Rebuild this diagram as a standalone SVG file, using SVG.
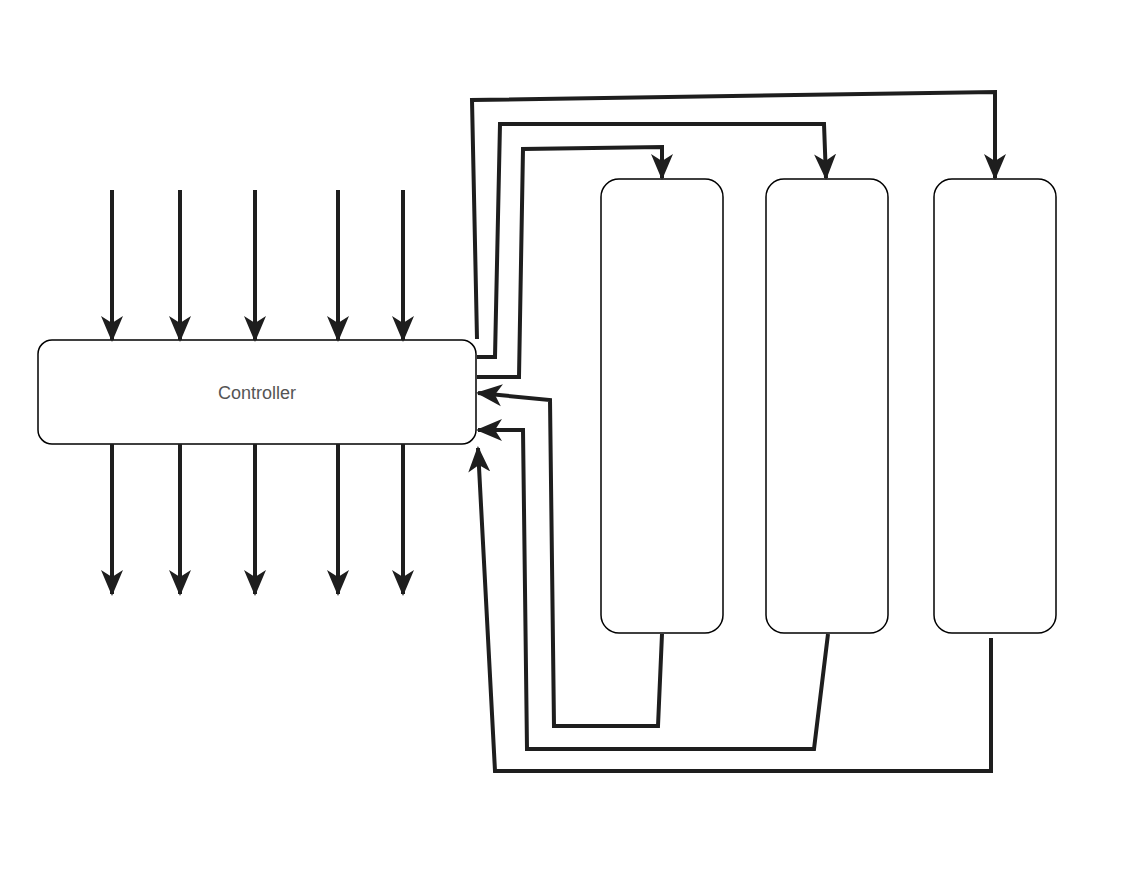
<svg xmlns="http://www.w3.org/2000/svg" width="1146" height="869" viewBox="0 0 1146 869">
<style>
.n{fill:#fff;stroke:#000;stroke-width:1.5}
.c{fill:none;stroke:#1e1e1e;stroke-width:4;marker-end:url(#a)}
.t{font-family:"Liberation Sans",Arial,sans-serif;font-size:18px;fill:#555}
</style>
<defs><marker id="a" markerWidth="8" markerHeight="8" refX="6.5" refY="4" orient="auto" markerUnits="userSpaceOnUse" viewBox="0 0 8 8"><path d="M0,0 L8,4 L0,8 L2,4Z" fill="#1e1e1e" transform="scale(1)"/></marker></defs>
<defs><marker id="b" markerWidth="28" markerHeight="28" refX="24" refY="14" orient="auto" markerUnits="userSpaceOnUse"><path d="M0,3 L26,14 L0,25 L7,14Z" fill="#1e1e1e"/></marker></defs>
<rect width="1146" height="869" fill="#fff"/>
<g id="controller"><rect class="n" x="38" y="340" width="438" height="104" rx="14"/><text class="t" x="257" y="399" text-anchor="middle">Controller</text></g>
<g id="box1"><rect class="n" x="601" y="179" width="122" height="454" rx="18"/></g>
<g id="box2"><rect class="n" x="766" y="179" width="122" height="454" rx="18"/></g>
<g id="box3"><rect class="n" x="934" y="179" width="122" height="454" rx="18"/></g>
<g id="connectors" fill="none" stroke="#1e1e1e" stroke-width="4" marker-end="url(#b)">
<path d="M112,190V340"/><path d="M180,190V340"/><path d="M255,190V340"/><path d="M338,190V340"/><path d="M403,190V340"/>
<path d="M112,444V594"/><path d="M180,444V594"/><path d="M255,444V594"/><path d="M338,444V594"/><path d="M403,444V594"/>
<path d="M477,339L472,100L995,92V178"/>
<path d="M477,357H495L500,124H824L826,178"/>
<path d="M477,377H519L523,149L662,147V178"/>
<path d="M662,634L658,726H554L550,400L478,393"/>
<path d="M828,634L814,749H527L523,430H478"/>
<path d="M991,638V771H495L478,448"/>
</g>
</svg>
